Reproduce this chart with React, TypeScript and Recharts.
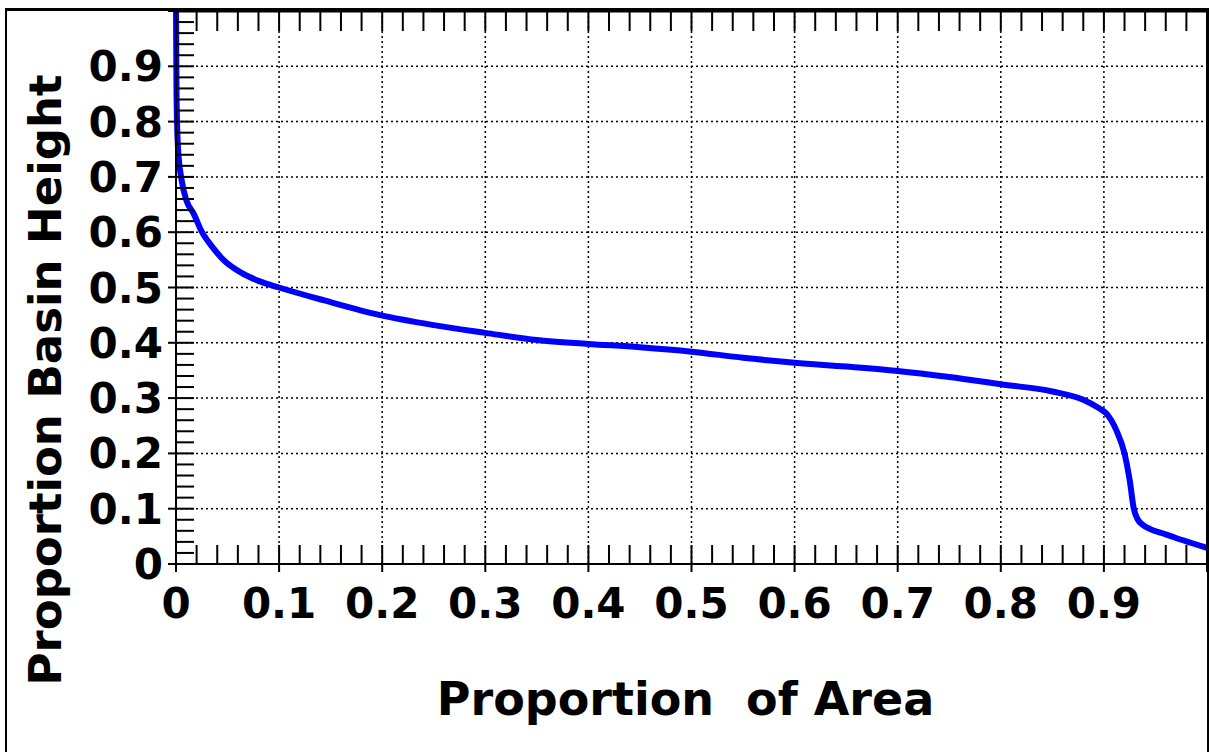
import React from 'react';
import { LineChart, Line, XAxis, YAxis, CartesianGrid } from 'recharts';

// Proportion of area (x) and proportion of basin height (y)
const areaValues = [
  0, 0.0005, 0.002, 0.0055, 0.01, 0.017, 0.025, 0.035, 0.046, 0.064, 0.08, 0.1,
  0.143, 0.198, 0.25, 0.3, 0.35, 0.4, 0.45, 0.5, 0.55, 0.6, 0.65, 0.7, 0.75,
  0.8, 0.85, 0.88, 0.895, 0.902, 0.912, 0.92, 0.925, 0.929, 0.933, 0.937,
  0.945, 0.956, 0.97, 0.985, 1.0,
];
const heightValues = [
  1.0, 0.85, 0.75, 0.694, 0.658, 0.634, 0.601, 0.574, 0.55, 0.526, 0.512, 0.5,
  0.477, 0.45, 0.432, 0.418, 0.405, 0.398, 0.392, 0.384, 0.373, 0.364, 0.357,
  0.349, 0.338, 0.325, 0.312, 0.297, 0.282, 0.273, 0.242, 0.2, 0.152, 0.1,
  0.08, 0.072, 0.063, 0.056, 0.047, 0.038, 0.029,
];

// Axis ticks
const minorTicks = [
  0, 0.02, 0.04, 0.06, 0.08, 0.1, 0.12, 0.14, 0.16, 0.18, 0.2, 0.22, 0.24,
  0.26, 0.28, 0.3, 0.32, 0.34, 0.36, 0.38, 0.4, 0.42, 0.44, 0.46, 0.48, 0.5,
  0.52, 0.54, 0.56, 0.58, 0.6, 0.62, 0.64, 0.66, 0.68, 0.7, 0.72, 0.74, 0.76,
  0.78, 0.8, 0.82, 0.84, 0.86, 0.88, 0.9, 0.92, 0.94, 0.96, 0.98, 1.0,
];
const majorTicks = [0, 0.1, 0.2, 0.3, 0.4, 0.5, 0.6, 0.7, 0.8, 0.9, 1.0];
const tickLabelValues = [0, 0.1, 0.2, 0.3, 0.4, 0.5, 0.6, 0.7, 0.8, 0.9];
const tickLabels = ['0', '0.1', '0.2', '0.3', '0.4', '0.5', '0.6', '0.7', '0.8', '0.9'];
const gridValues = [0.1, 0.2, 0.3, 0.4, 0.5, 0.6, 0.7, 0.8, 0.9];

const xTitle = 'Proportion  of Area';
const yTitle = 'Proportion Basin Height';

const data = areaValues.map((x, i) => ({ x, y: heightValues[i] }));

const FONT = '"DejaVu Sans", Verdana, sans-serif';
const near = (a: number, b: number) => Math.abs(a - b) < 1e-6;
const isMajor = (v: number) => majorTicks.some((m) => near(m, v));
const labelOf = (v: number) => {
  const i = tickLabelValues.findIndex((m) => near(m, v));
  return i >= 0 ? tickLabels[i] : null;
};

const BottomTick = (props: any) => {
  const { x, y, payload } = props;
  const v = payload.value;
  const label = labelOf(v);
  return (
    <g>
      <line x1={x} x2={x} y1={y - 19} y2={isMajor(v) ? y + 8 : y} stroke="#000" strokeWidth={2} />
      {label !== null && (
        <text x={x} y={y + 54} textAnchor="middle" fontSize={42} fontWeight="bold" fontFamily={FONT} fill="#000">
          {label}
        </text>
      )}
    </g>
  );
};

const TopTick = (props: any) => {
  const { x, y } = props;
  return <line x1={x} x2={x} y1={y} y2={y + 20} stroke="#000" strokeWidth={2} />;
};

const LeftTick = (props: any) => {
  const { x, y, payload } = props;
  const v = payload.value;
  const label = labelOf(v);
  return (
    <g>
      <line x1={isMajor(v) ? x - 8 : x} x2={x + 18} y1={y} y2={y} stroke="#000" strokeWidth={2} />
      {label !== null && (
        <text x={x - 13} y={y + 15} textAnchor="end" fontSize={42} fontWeight="bold" fontFamily={FONT} fill="#000">
          {label}
        </text>
      )}
    </g>
  );
};

const RightTick = (props: any) => {
  const { x, y } = props;
  return <line x1={x - 17} x2={x} y1={y} y2={y} stroke="#000" strokeWidth={2} />;
};

const XTitle = (props: any) => {
  const vb = props.viewBox || { x: 176, y: 564, width: 1031 };
  return (
    <text
      x={vb.x + vb.width / 2 - 6}
      y={vb.y + 151}
      textAnchor="middle"
      fontSize={46}
      fontWeight="bold"
      fontFamily={FONT}
      fill="#000"
      style={{ whiteSpace: 'pre' }}
    >
      {xTitle}
    </text>
  );
};

const YTitle = () => {
  const cx = 61;
  const cy = 380;
  return (
    <text
      x={cx}
      y={cy}
      transform={`rotate(-90, ${cx}, ${cy})`}
      textAnchor="middle"
      fontSize={45}
      fontWeight="bold"
      fontFamily={FONT}
      fill="#000"
    >
      {yTitle}
    </text>
  );
};

export default function App() {
  return (
    <div style={{ position: 'absolute', left: 0, top: 0, width: 1209, height: 752, background: '#fff', overflow: 'hidden' }}>
      <LineChart
        width={1209}
        height={752}
        data={data}
        margin={{ top: 10, right: 1, bottom: 0, left: 0 }}
      >
        <CartesianGrid
          xAxisId="bottom"
          yAxisId="left"
          stroke="#000"
          strokeWidth={1.5}
          strokeDasharray="2 3"
          horizontalValues={gridValues}
          verticalValues={gridValues}
        />
        <XAxis
          xAxisId="bottom"
          dataKey="x"
          type="number"
          domain={[0, 1]}
          ticks={minorTicks}
          interval={0}
          orientation="bottom"
          height={188}
          tickSize={0}
          tickMargin={0}
          tickLine={false}
          axisLine={{ stroke: '#000', strokeWidth: 2 }}
          tick={<BottomTick />}
          label={{ content: (p: any) => <XTitle {...p} /> }}
        />
        <XAxis
          xAxisId="top"
          dataKey="x"
          type="number"
          domain={[0, 1]}
          ticks={minorTicks}
          interval={0}
          orientation="top"
          height={1}
          tickSize={0}
          tickMargin={0}
          tickLine={false}
          axisLine={{ stroke: '#000', strokeWidth: 3 }}
          tick={<TopTick />}
        />
        <YAxis
          yAxisId="left"
          type="number"
          domain={[0, 1]}
          ticks={minorTicks}
          interval={0}
          orientation="left"
          width={176}
          tickSize={0}
          tickMargin={0}
          tickLine={false}
          axisLine={{ stroke: '#000', strokeWidth: 2 }}
          tick={<LeftTick />}
          label={{ content: () => <YTitle /> }}
        />
        <YAxis
          yAxisId="right"
          type="number"
          domain={[0, 1]}
          ticks={minorTicks}
          interval={0}
          orientation="right"
          width={1}
          tickSize={0}
          tickMargin={0}
          tickLine={false}
          axisLine={{ stroke: '#000', strokeWidth: 2 }}
          tick={<RightTick />}
        />
        <Line
          xAxisId="bottom"
          yAxisId="left"
          type="monotone"
          dataKey="y"
          stroke="#0000ff"
          strokeWidth={6}
          dot={false}
          isAnimationActive={false}
        />
      </LineChart>
      <div
        style={{
          position: 'absolute',
          left: 5,
          top: 8,
          width: 1204,
          height: 744,
          boxSizing: 'border-box',
          borderLeft: '2px solid #000',
          borderTop: '3px solid #000',
          borderRight: '2px solid #000',
          pointerEvents: 'none',
        }}
      />
    </div>
  );
}
